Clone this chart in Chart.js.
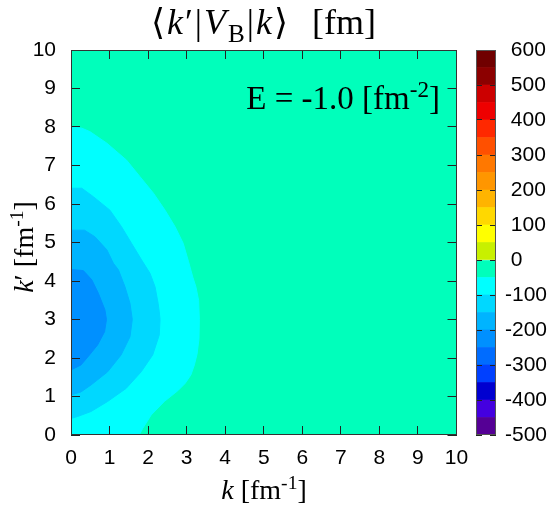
<!DOCTYPE html>
<html>
<head>
<meta charset="utf-8">
<script src="https://cdn.jsdelivr.net/npm/chart.js@4.4.1/dist/chart.umd.min.js"></script>
<style>
  body { margin: 0; background: #fff; }
  #wrap { position: relative; width: 548px; height: 505px; overflow: hidden; background: #fff; }
  canvas { position: absolute; left: 0; top: 0; }
  .lbl { position: absolute; font-family: 'Liberation Serif', 'DejaVu Serif', serif; color: #000; white-space: nowrap; }
  .lbl sub, .lbl sup { line-height: 0; font-size: 70%; }
</style>
</head>
<body>
<div id="wrap">
  <canvas id="mapChart" width="548" height="505"></canvas>
  <canvas id="boxChart" width="548" height="505"></canvas>
  <div class="lbl" id="title" style="left:0;width:527px;top:4px;font-size:36px;line-height:36px;text-align:center;"><span style="letter-spacing:2px;">⟨<i>k</i>′|<i>V</i><sub>B</sub>|<i>k</i>⟩</span><span style="margin-left:22px;">[fm]</span></div>
  <div class="lbl" id="energy" style="right:108px;top:82px;font-size:33px;line-height:33px;text-align:right;">E = -1.0 [fm<sup>-2</sup>]</div>
  <div class="lbl" id="xTitle" style="left:0;width:528px;top:476px;font-size:28px;line-height:28px;text-align:center;"><i>k</i> [fm<sup>-1</sup>]</div>
  <div class="lbl" id="yTitle" style="left:-76px;top:233px;width:200px;font-size:28px;line-height:28px;text-align:center;transform:rotate(-90deg);"><i>k</i>′ [fm<sup>-1</sup>]</div>
</div>
<script>
// colour box: lower edge of each 50 fm band and its colour
const cbLevels = [-500, -450, -400, -350, -300, -250, -200, -150, -100, -50, 0, 50, 100, 150, 200, 250, 300, 350, 400, 450, 500, 550];
const cbColors = ['#550095', '#4400e0', '#0000d0', '#0040ff', '#006cff', '#0090ff', '#00b4ff', '#00d8ff', '#00ffff', '#00ffbb', '#c8f000', '#ffff00',
                  '#ffd800', '#ffb400', '#ff9600', '#ff7800', '#ff5000', '#ff2800', '#ee0000', '#cc0000', '#8c0000', '#700000'];
const cbStep = 50;

// k and k' range of the map
const kMin = 0;
const kMax = 10;

// edges of the nested regions, (k, k') in fm^-1
const edge50k  = [0, 1.77, 1.86, 2.08, 2.42, 2.77, 2.96, 3.11, 3.2, 3.27, 3.32, 3.33, 3.31, 3.24, 3.16, 3.05, 2.91, 2.70, 2.44, 2.14, 1.79, 1.44, 0.93, 0.49, 0.28, 0];
const edge50kp = [0, 0, 0.17, 0.52, 0.87, 1.15, 1.34, 1.56, 1.82, 2.1, 2.5, 3.0, 3.5, 3.85, 4.1, 4.5, 4.98, 5.41, 5.84, 6.28, 6.71, 7.14, 7.58, 7.88, 7.97, 8.0];

const edge100k  = [0, 0.17, 0.52, 0.95, 1.43, 1.82, 2.12, 2.29, 2.31, 2.29, 2.26, 2.18, 2.05, 1.83, 1.57, 1.31, 1.01, 0.58, 0.28, 0];
const edge100kp = [0.43, 0.48, 0.61, 0.87, 1.21, 1.64, 2.08, 2.6, 3.0, 3.2, 3.42, 3.85, 4.2, 4.55, 4.98, 5.41, 5.84, 6.19, 6.41, 6.41];

const edge150k  = [0, 0.26, 0.52, 0.95, 1.3, 1.53, 1.59, 1.53, 1.4, 1.23, 1.1, 0.93, 0.62, 0.35, 0];
const edge150kp = [1.04, 1.12, 1.3, 1.64, 2.08, 2.55, 3.0, 3.42, 3.85, 4.29, 4.46, 4.81, 5.15, 5.32, 5.32];

const edge200k  = [0, 0.26, 0.48, 0.69, 0.87, 0.92, 0.88, 0.71, 0.54, 0.32, 0];
const edge200kp = [1.69, 1.82, 2.08, 2.34, 2.68, 3.0, 3.25, 3.68, 4.03, 4.27, 4.3];

// band each region falls in (lower edge)
const regions = [
    { band: -50,  k: [kMin, kMax, kMax, kMin], kp: [kMin, kMin, kMax, kMax] },
    { band: -100, k: edge50k,  kp: edge50kp },
    { band: -150, k: edge100k, kp: edge100kp },
    { band: -200, k: edge150k, kp: edge150kp },
    { band: -250, k: edge200k, kp: edge200kp }
];

const bandColor = band => cbColors[cbLevels.indexOf(band)];

const framePlugin = {
    id: 'frame',
    afterDraw(chart, args, opts) {
        const a = chart.chartArea;
        const ctx = chart.ctx;
        ctx.save();
        ctx.strokeStyle = opts.color;
        ctx.lineWidth = 1;
        ctx.strokeRect(Math.round(a.left) + 0.5, Math.round(a.top) + 0.5,
            Math.round(a.right) - Math.round(a.left) - 1, Math.round(a.bottom) - Math.round(a.top) - 1);
        ctx.restore();
    }
};

const tickFont = { family: "'Liberation Sans', Arial, sans-serif", size: 21 };

function inwardAxis(position, extra) {
    return Object.assign({
        type: 'linear',
        position: position,
        min: kMin,
        max: kMax,
        ticks: { stepSize: 1, display: false },
        grid: { drawOnChartArea: false, drawTicks: true, tickLength: -9, color: '#222', z: 1 },
        border: { display: false }
    }, extra);
}

new Chart(document.getElementById('mapChart'), {
    type: 'scatter',
    data: {
        datasets: regions.map((r, i) => ({
            data: r.k.map((k, j) => ({ x: k, y: r.kp[j] })),
            showLine: true,
            fill: 'shape',
            backgroundColor: bandColor(r.band),
            borderColor: bandColor(r.band),
            borderWidth: 1,
            pointRadius: 0,
            order: regions.length - i
        }))
    },
    options: {
        responsive: false,
        devicePixelRatio: 1,
        animation: false,
        layout: { padding: { top: 50, right: 91.5, left: 0, bottom: 0 } },
        plugins: {
            legend: { display: false },
            tooltip: { enabled: false },
            frame: { color: '#333' }
        },
        scales: {
            x: inwardAxis('bottom', {
                ticks: { stepSize: 1, font: tickFont, color: '#000', padding: 20, maxRotation: 0 },
                afterFit: s => { s.height = 70; }
            }),
            x2: inwardAxis('top', { afterFit: s => { s.height = 0; } }),
            y: inwardAxis('left', {
                ticks: { stepSize: 1, font: tickFont, color: '#000', padding: 24 },
                afterFit: s => { s.width = 71; }
            }),
            y2: inwardAxis('right', { afterFit: s => { s.width = 0; } })
        }
    },
    plugins: [framePlugin]
});

// colour box drawn as floating bars, one per band
new Chart(document.getElementById('boxChart'), {
    type: 'bar',
    data: {
        labels: ['cb'],
        datasets: cbLevels.map((lo, i) => ({
            data: [[lo, lo + cbStep]],
            backgroundColor: cbColors[i],
            borderWidth: 0,
            grouped: false,
            barPercentage: 1,
            categoryPercentage: 1
        }))
    },
    options: {
        responsive: false,
        devicePixelRatio: 1,
        animation: false,
        layout: { padding: { top: 50, right: 0, left: 476, bottom: 70 } },
        plugins: {
            legend: { display: false },
            tooltip: { enabled: false },
            frame: { color: '#555' }
        },
        scales: {
            x: { display: false },
            y: {
                position: 'right',
                min: -500,
                max: 600,
                ticks: {
                    stepSize: 100,
                    font: tickFont,
                    color: '#000',
                    padding: 15,
                    callback: v => (v >= 0 ? ' ' : '') + v
                },
                grid: { drawOnChartArea: false, drawTicks: true, tickLength: -6, color: '#222', z: 1 },
                border: { display: false },
                afterFit: s => { s.width = 52; }
            },
            yl: {
                position: 'left',
                min: -500,
                max: 600,
                ticks: { stepSize: 100, display: false },
                grid: { drawOnChartArea: false, drawTicks: true, tickLength: -6, color: '#222', z: 1 },
                border: { display: false },
                afterFit: s => { s.width = 0; }
            }
        }
    },
    plugins: [framePlugin]
});
</script>
</body>
</html>
